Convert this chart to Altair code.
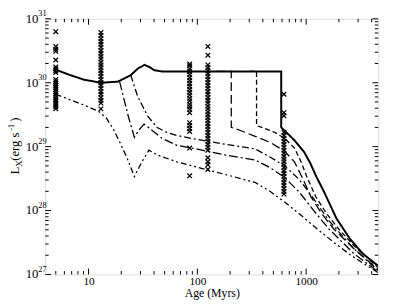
import altair as alt
import pandas as pd
import numpy as np

# ---------------- model curves (age in Myr, Lx in erg/s) ----------------
solid_age = [5, 6.6, 9.0, 13, 18.6, 24.4, 28.2, 32.6, 36.2, 40.2, 47.4, 590, 590, 780, 960, 1087, 1230, 1452, 1901, 2541, 3333, 4570]
solid_lx = [1.60e30, 1.34e30, 1.12e30, 1.0e30, 1.04e30, 1.31e30, 1.65e30, 1.90e30, 1.77e30, 1.57e30, 1.5e30, 1.5e30, 2.0e29, 1.26e29, 8.2e28, 5.6e28, 3.5e28, 2.0e28, 7.5e27, 3.56e27, 2.1e27, 1.37e27]

d1_age = [150, 205, 205, 249, 340, 465, 634, 780, 920, 1109, 1393, 1786, 2704, 4570]
d1_lx = [1.5e30, 1.5e30, 2.0e29, 1.79e29, 1.45e29, 1.17e29, 8.5e28, 5.8e28, 3.3e28, 1.63e28, 8.9e27, 5.2e27, 2.6e27, 1.2e27]

d2_age = [300, 350, 350, 419, 515, 634, 780, 883, 1021, 1230, 1545, 1982, 2704, 4570]
d2_lx = [1.5e30, 1.5e30, 2.14e29, 1.92e29, 1.67e29, 1.35e29, 9.5e28, 6.2e28, 3.3e28, 1.63e28, 8.9e27, 5.2e27, 2.9e27, 1.28e27]

l2_age = [24.4, 28.2, 34.8, 42.8, 52.6, 64.7, 98, 182, 340, 465, 634, 865, 1180, 1612, 2704, 4570]
l2_lx = [1.32e30, 6.2e29, 3.04e29, 1.99e29, 1.67e29, 1.5e29, 1.30e29, 1.09e29, 9.2e28, 6.9e28, 5.0e28, 3.07e28, 1.51e28, 7.0e27, 2.6e27, 1.15e27]

l1_age = [19.3, 21.1, 23.4, 26.4, 28.8, 32.4, 38.5, 47.4, 64.7, 98, 182, 340, 465, 634, 865, 1180, 1612, 2704, 4570]
l1_lx = [1.04e30, 5.7e29, 2.83e29, 1.40e29, 1.79e29, 2.25e29, 1.79e29, 1.35e29, 1.05e29, 9.2e28, 7.4e28, 6.2e28, 4.7e28, 3.3e28, 1.94e28, 9.9e27, 5.2e27, 2.17e27, 1.11e27]

l3_age = [5, 6.6, 9.0, 12.3, 14.5, 16.8, 19.4, 22.4, 26.4, 30.6, 35.9, 42.8, 64.7, 182, 340, 465, 634, 865, 1256, 1786, 2541, 4570]
l3_lx = [6.6e29, 5.5e29, 4.5e29, 3.6e29, 2.83e29, 1.92e29, 1.17e29, 6.9e28, 3.4e28, 5.6e28, 8.8e28, 7.4e28, 5.8e28, 3.66e28, 2.76e28, 2.0e28, 1.36e28, 8.9e27, 5.2e27, 3.2e27, 2.03e27, 1.07e27]

# ---------------- observed clusters ----------------
c5_lx = [6.3e30, 3.7e30, 3.35e30, 3.1e30, 2.27e30, 1.77e30, 1.65e30, 1.54e30, 1.44e30, 1.12e30, 1.04e30, 9.7e29, 9.1e29, 8.5e29, 7.9e29, 7.3e29, 6.8e29, 6.4e29, 5.9e29, 5.5e29, 5.2e29, 4.8e29, 4.5e29, 4.2e29, 3.9e29]
c13_lx = [6.1e30, 5.5e30, 4.9e30, 4.4e30, 4.0e30, 3.6e30, 3.2e30, 2.9e30, 2.6e30, 2.36e30, 2.1e30, 1.9e30, 1.71e30, 1.54e30, 1.39e30, 1.25e30, 1.12e30, 1.01e30, 9.1e29, 8.2e29, 7.3e29, 6.6e29, 5.9e29, 5.3e29, 4.8e29, 3.9e29]
c85_lx = [1.97e30, 1.84e30, 1.65e30, 1.49e30, 1.34e30, 1.20e30, 1.08e30, 9.7e29, 8.8e29, 7.9e29, 7.1e29, 6.4e29, 5.7e29, 5.2e29, 4.6e29, 4.2e29, 3.8e29, 3.4e29, 2.37e29, 2.14e29, 1.92e29, 1.73e29, 9.5e28, 3.5e28]
c125_lx = [3.7e30, 2.7e30, 1.9e30, 1.71e30, 1.54e30, 1.39e30, 1.25e30, 1.12e30, 1.01e30, 9.1e29, 8.2e29, 7.3e29, 6.6e29, 5.9e29, 5.3e29, 4.8e29, 4.3e29, 3.9e29, 3.5e29, 3.15e29, 2.83e29, 2.55e29, 2.29e29, 2.06e29, 1.85e29, 1.67e29, 1.50e29, 1.35e29, 1.21e29, 1.09e29, 9.8e28, 8.8e28, 6.7e28, 5.8e28, 5.2e28, 4.4e28]
c625_lx = [6.6e29, 3.4e29, 3.04e29, 1.67e29, 1.50e29, 1.35e29, 1.21e29, 1.09e29, 9.8e28, 8.8e28, 7.9e28, 7.1e28, 6.4e28, 5.8e28, 5.2e28, 4.7e28, 4.2e28, 3.8e28, 3.4e28, 3.07e28, 2.76e28, 2.48e28, 2.23e28, 2.0e28, 1.81e28]
cluster_ages = [5, 13, 85, 125, 625]

# ---------------- axis ticks ----------------
x_major = [10, 100, 1000]
x_minor = [5, 6, 7, 8, 9, 20, 30, 40, 50, 60, 70, 80, 90, 200, 300, 400, 500, 600, 700, 800, 900, 2000, 3000, 4000]
y_major = [1e27, 1e28, 1e29, 1e30, 1e31]
y_minor = [m * 10.0 ** e for e in range(27, 31) for m in range(2, 10)]

W, H = 340, 261
FONT = "Liberation Serif"
xs = alt.Scale(type="log", domain=[4, 4600], nice=False)
ys = alt.Scale(type="log", domain=[1e27, 1e31], nice=False)
x_axis = alt.Axis(
    values=x_major, labelExpr="format(datum.value, 'd')", grid=False, ticks=False, tickSize=0,
    domain=False, labelFont=FONT, labelFontSize=11.5, labelColor="black", labelPadding=10,
    labelBaseline="alphabetic", title="Age (Myrs)", titleFont=FONT, titleFontSize=12,
    titleFontWeight="normal", titleColor="black", titleBaseline="alphabetic", titleY=22)

layers = []

# crosses
pts = []
for a, arr in zip(cluster_ages, [c5_lx, c13_lx, c85_lx, c125_lx, c625_lx]):
    for v in arr:
        pts.append({"age": a, "lx": v})
pts_df = pd.DataFrame(pts)
cross = alt.Chart(pts_df).mark_point(
    shape="M-1,-1L1,1M-1,1L1,-1", size=22, filled=False, color="black", strokeWidth=1.3, opacity=1
).encode(
    x=alt.X("age:Q", scale=xs, axis=x_axis),
    y=alt.Y("lx:Q", scale=ys, axis=None),
)
layers.append(cross)

styles = [
    (d1_age, d1_lx, [9, 4], 1.3),
    (d2_age, d2_lx, [5, 3], 1.3),
    (l2_age, l2_lx, [7, 3, 2, 3], 1.3),
    (l1_age, l1_lx, [9, 3, 2, 3], 1.3),
    (l3_age, l3_lx, [6, 3, 2, 3, 2, 3], 1.3),
    (solid_age, solid_lx, [1, 0], 2.0),
]
for ages, lxs, dash, sw in styles:
    df = pd.DataFrame({"age": ages, "lx": lxs, "i": range(len(ages))})
    layers.append(
        alt.Chart(df).mark_line(color="black", strokeDash=dash, strokeWidth=sw, clip=True).encode(
            x=alt.X("age:Q", scale=xs, axis=x_axis),
            y=alt.Y("lx:Q", scale=ys, axis=None),
            order=alt.Order("i:Q"),
        )
    )

# inside ticks
def xticks(vals, ln):
    df = pd.DataFrame({"age": vals})
    base = alt.Chart(df).mark_rule(color="black", strokeWidth=1)
    bot = base.encode(x=alt.X("age:Q", scale=xs, axis=x_axis), y=alt.value(H), y2=alt.value(H - ln))
    top = base.encode(x=alt.X("age:Q", scale=xs, axis=x_axis), y=alt.value(0), y2=alt.value(ln))
    return [bot, top]

def yticks(vals, ln):
    df = pd.DataFrame({"lx": vals})
    base = alt.Chart(df).mark_rule(color="black", strokeWidth=1)
    lef = base.encode(y=alt.Y("lx:Q", scale=ys, axis=None), x=alt.value(0), x2=alt.value(ln))
    rig = base.encode(y=alt.Y("lx:Q", scale=ys, axis=None), x=alt.value(W), x2=alt.value(W - ln))
    return [lef, rig]

layers += xticks(x_major, 6) + xticks(x_minor, 3.5) + yticks(y_major, 6) + yticks(y_minor, 3.5)

# y tick labels: 10^n
ylab = pd.DataFrame({"lx": y_major, "e": [str(int(round(np.log10(v)))) for v in y_major]})
layers.append(alt.Chart(ylab).mark_text(text="10", align="right", baseline="middle", font=FONT,
                                         fontSize=13, color="black").encode(
    y=alt.Y("lx:Q", scale=ys, axis=None), x=alt.value(-7)))
layers.append(alt.Chart(ylab).mark_text(align="left", baseline="middle", font=FONT, fontSize=8.5,
                                         dy=-6, color="black").encode(
    y=alt.Y("lx:Q", scale=ys, axis=None), x=alt.value(-7), text="e:N"))

# y title: L_X (erg s^-1), rotated
tparts = [("L", 13, -31, 159), ("X", 9, -27, 151), (" (erg s", 13, -31, 145), ("-1", 8, -34, 114), (")", 13, -31, 105)]
for txt, fs, px, py in tparts:
    layers.append(alt.Chart(pd.DataFrame({"a": [0]})).mark_text(
        text=txt, angle=270, align="left", baseline="middle", font=FONT, fontSize=fs, color="black"
    ).encode(x=alt.value(px), y=alt.value(py)))

chart = alt.layer(*layers).properties(
    width=W, height=H, autosize="none",
    padding={"left": 38, "top": 8, "right": 13, "bottom": 23},
).configure_view(stroke="black", strokeWidth=1.2).configure(background="white")

chart.save("out.html", embed_options={"renderer": "svg", "actions": False})
